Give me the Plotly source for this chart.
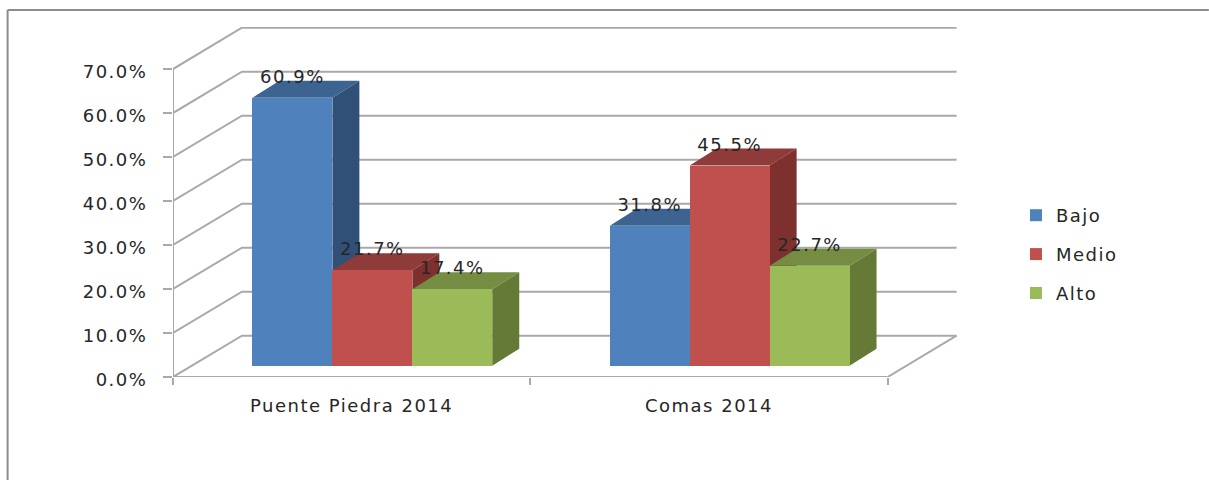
import plotly.graph_objects as go

# values
categories = ['Puente Piedra 2014', 'Comas 2014']
bajo = [60.9, 31.8]
medio = [21.7, 45.5]
alto = [17.4, 22.7]
y_ticks = [0, 10, 20, 30, 40, 50, 60, 70]

series = [
    ('Bajo', bajo, '#4F81BD', '#3D6490', '#315078'),
    ('Medio', medio, '#C0504D', '#8E3B39', '#7E302E'),
    ('Alto', alto, '#9BBB59', '#748D42', '#667A37'),
]

# fake 3d box: offsets in axis units (x = category, y = percent)
WALL_DX, WALL_DY = 0.193, 9.4
BAR_DX, BAR_DY = 0.0755, 3.86
BAR_W = 0.2237
BAR_BASE = 2.57
GROUP_SHIFT = 0.058
LABEL_GAP = 4.4
GRID = '#A9A9A9'
TEXT = '#262626'
FONT = 'DejaVu Sans'
FONT_SIZE = 18

L, R, T, B = 172.5, 251, 27, 103
W = 1209 - L - R
H = 480 - T - B
X_RANGE = [0, 2.197]
Y_RANGE = [0, 79.55]

fig = go.Figure()


def line(xs, ys, width=2):
    fig.add_trace(go.Scatter(x=xs, y=ys, mode='lines', line=dict(color=GRID, width=width),
                             showlegend=False, hoverinfo='skip'))


def face(xs, ys, color):
    fig.add_trace(go.Scatter(x=xs, y=ys, mode='lines', fill='toself', fillcolor=color,
                             line=dict(width=0, color=color), showlegend=False, hoverinfo='skip'))


# walls and floor
for v in y_ticks:
    line([0, WALL_DX, 2 + WALL_DX], [v, v + WALL_DY, v + WALL_DY])
line([2, 2 + WALL_DX], [0, WALL_DY])
line([0, 2], [0, 0])
line([0, 0], [0, y_ticks[-1]])

# tops and sides go below, the bar fronts sit on the overlaid axes
for k, (name, values, front, top, side) in enumerate(series):
    for i, v in enumerate(values):
        x0 = i + 0.5 + GROUP_SHIFT + (k - 1.5) * BAR_W
        x1 = x0 + BAR_W
        y1 = BAR_BASE + v
        face([x0, x1, x1 + BAR_DX, x0 + BAR_DX, x0], [y1, y1, y1 + BAR_DY, y1 + BAR_DY, y1], top)
        face([x1, x1 + BAR_DX, x1 + BAR_DX, x1, x1],
             [BAR_BASE, BAR_BASE + BAR_DY, y1 + BAR_DY, y1, BAR_BASE], side)

for k, (name, values, front, top, side) in enumerate(series):
    xs = [i + 0.5 + GROUP_SHIFT + (k - 1) * BAR_W for i in range(len(categories))]
    fig.add_trace(go.Bar(x=xs, y=values, base=[BAR_BASE] * len(values), width=BAR_W, name=name,
                         legendgroup=name, marker=dict(color=front, line=dict(width=0)),
                         xaxis='x2', yaxis='y2', hoverinfo='skip'))

for k, (name, values, front, top, side) in enumerate(series):
    xs = [i + 0.5 + GROUP_SHIFT + (k - 1) * BAR_W for i in range(len(categories))]
    fig.add_trace(go.Scatter(x=xs, y=[v + BAR_BASE + LABEL_GAP for v in values], mode='text',
                             text=[f'{v:.1f}%' for v in values], textposition='middle center',
                             textfont=dict(family=FONT, size=FONT_SIZE, color=TEXT),
                             xaxis='x2', yaxis='y2', showlegend=False, hoverinfo='skip'))

fig.update_layout(
    width=1209, height=480,
    margin=dict(l=L, r=R, t=T, b=B, pad=0),
    paper_bgcolor='white', plot_bgcolor='white',
    barmode='overlay', bargap=0,
    font=dict(family=FONT, size=FONT_SIZE, color=TEXT),
    xaxis=dict(range=X_RANGE, showgrid=False, zeroline=False, showline=False,
               tickmode='array', tickvals=[0.5, 1.5], ticktext=categories, ticks='',
               ticklabelstandoff=16, fixedrange=True,
               minor=dict(tickmode='array', tickvals=[0, 1, 2], ticks='outside', ticklen=7,
                          tickwidth=2, tickcolor=GRID, showgrid=False)),
    yaxis=dict(range=Y_RANGE, showgrid=False, zeroline=False, showline=False,
               tickmode='array', tickvals=y_ticks, ticktext=[f'{v:.1f}%' for v in y_ticks],
               ticks='outside', ticklen=9, tickwidth=2, tickcolor=GRID,
               ticklabelstandoff=12, ticklabelshift=3, fixedrange=True),
    xaxis2=dict(range=X_RANGE, overlaying='x', visible=False, fixedrange=True),
    yaxis2=dict(range=Y_RANGE, overlaying='y', visible=False, fixedrange=True),
    legend=dict(x=(1016 - L) / W, xref='paper', y=1 - (197 - T) / H, yref='paper',
                xanchor='left', yanchor='top',
                traceorder='grouped', tracegroupgap=12.5, font=dict(family=FONT, size=FONT_SIZE, color=TEXT),
                bgcolor='rgba(0,0,0,0)', itemclick=False, itemdoubleclick=False),
)

# picture frame: top and left edges only
fx = (7 - L) / W
fy = 1 + (T - 10) / H
fb = -B / H
fig.add_shape(type='line', xref='paper', yref='paper', x0=fx, x1=(1209 - L) / W, y0=fy, y1=fy,
              line=dict(color='#8C8C8C', width=2))
fig.add_shape(type='line', xref='paper', yref='paper', x0=fx, x1=fx, y0=fb, y1=fy,
              line=dict(color='#8C8C8C', width=2))

# page margin off, text slightly spaced out like the stretched original
fix_page = """
document.body.style.margin = '0';
var st = document.createElement('style');
st.textContent = 'svg text { letter-spacing: 1.5px; }';
document.head.appendChild(st);
"""
fig.write_html("out.html", post_script=fix_page, config=dict(displayModeBar=False))
